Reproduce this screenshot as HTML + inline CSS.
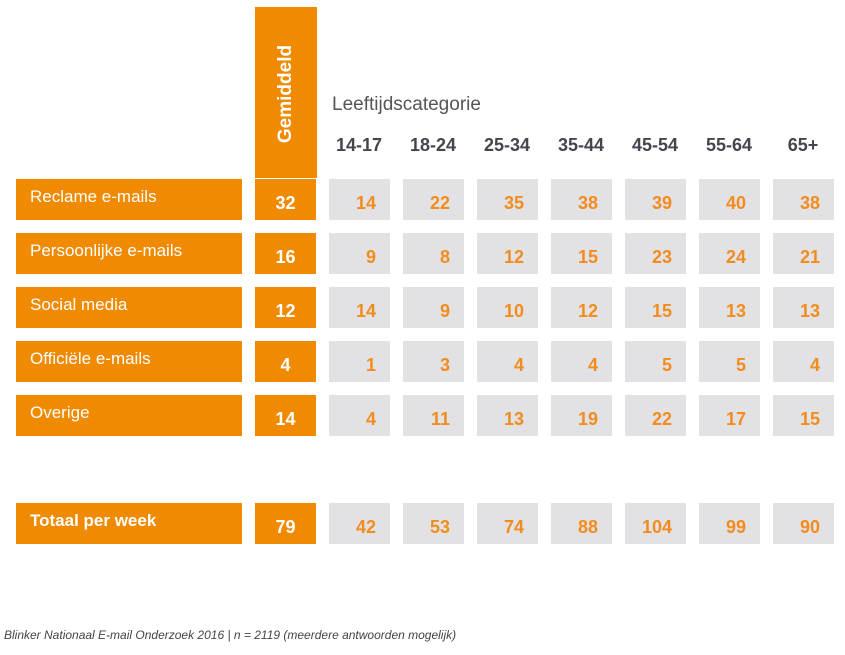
<!DOCTYPE html>
<html><head><meta charset="utf-8"><style>
body{margin:0;width:845px;height:655px;background:#fff;font-family:"Liberation Sans",sans-serif;position:relative;overflow:hidden}
.a{position:absolute;box-sizing:border-box}
.lab{background:#F08A00;color:#fff;font-size:17px;padding-left:14px;line-height:36px;left:16px;width:226px;height:41px}
.gem{background:#F08A00;color:#fff;font-weight:bold;font-size:18px;text-align:center;left:255px;width:61px;height:41px;line-height:48px}
.cell{background:#E2E2E4;color:#F28C1E;font-weight:bold;font-size:18px;text-align:right;padding-right:14px;width:61px;height:41px;line-height:48px}
.hd{color:#44454f;font-weight:bold;font-size:18px;text-align:center;width:74px;top:135px}
</style></head><body>
<div class="a" style="left:255px;top:7px;width:62px;height:171px;background:#F08A00"></div>
<div class="a" style="left:255px;top:7px;width:62px;height:171px"><div style="position:absolute;left:31px;top:87px;transform:translate(-50%,-50%) rotate(-90deg);color:#fff;font-weight:bold;font-size:19px;white-space:nowrap">Gemiddeld</div></div>
<div class="a" style="left:332px;top:94px;font-size:19px;color:#555">Leeftijdscategorie</div>
<div id="root"></div>
<div class="a" style="left:4px;top:628px;font-size:12px;font-style:italic;color:#444">Blinker Nationaal E-mail Onderzoek 2016 | n = 2119 (meerdere antwoorden mogelijk)</div>
<script>
const ages=["14-17","18-24","25-34","35-44","45-54","55-64","65+"];
const rows=["Reclame e-mails","Persoonlijke e-mails","Social media","Officiële e-mails","Overige","Totaal per week"];
const avg=[32,16,12,4,14,79];
const vals=[[14,22,35,38,39,40,38],[9,8,12,15,23,24,21],[14,9,10,12,15,13,13],[1,3,4,4,5,5,4],[4,11,13,19,22,17,15],[42,53,74,88,104,99,90]];
const rowY=[179,233,287,341,395,503];
const root=document.getElementById('root');
function mk(cls,txt,l,t){const d=document.createElement('div');d.className='a '+cls;d.textContent=txt;d.style.left=l+'px';d.style.top=t+'px';root.appendChild(d);return d;}
ages.forEach((g,i)=>{const d=mk('hd',g,322+i*74,135);

});
rows.forEach((r,j)=>{const y=rowY[j];
const l=mk('lab',r,16,y);l.style.fontWeight=j==5?'bold':'normal';


const g=mk('gem',avg[j],255,y);


vals[j].forEach((v,i)=>{const c=mk('cell',v,329+i*74,y);

});});
</script>
</body></html>
